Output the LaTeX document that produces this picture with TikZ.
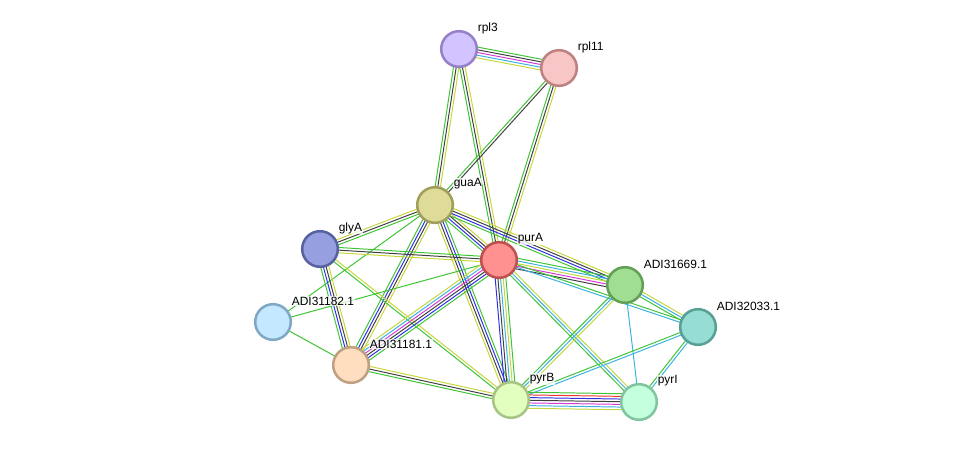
\documentclass[tikz,border=0pt]{standalone}
\usepackage{fontspec}
\setmainfont{Liberation Sans}
\usetikzlibrary{calc,backgrounds}

% evidence channel colours
\definecolor{chNbh}{RGB}{62,196,52}
\definecolor{chTxt}{RGB}{198,214,60}
\definecolor{chDb}{RGB}{58,178,222}
\definecolor{chExp}{RGB}{214,58,214}
\definecolor{chCoex}{RGB}{64,64,64}
\definecolor{chCooc}{RGB}{48,48,232}
\definecolor{chFus}{RGB}{236,52,52}

% protein fills and rims
\definecolor{rplThreeF}{RGB}{210,196,255}   \definecolor{rplThreeD}{RGB}{150,128,200}
\definecolor{rplElevenF}{RGB}{248,198,198}  \definecolor{rplElevenD}{RGB}{190,128,128}
\definecolor{guaF}{RGB}{222,220,152}        \definecolor{guaD}{RGB}{160,158,92}
\definecolor{glyF}{RGB}{150,160,224}        \definecolor{glyD}{RGB}{88,98,160}
\definecolor{purF}{RGB}{255,145,145}        \definecolor{purD}{RGB}{190,80,80}
\definecolor{aSixF}{RGB}{160,222,146}       \definecolor{aSixD}{RGB}{98,160,88}
\definecolor{aZeroF}{RGB}{150,222,212}      \definecolor{aZeroD}{RGB}{88,160,150}
\definecolor{aTwoF}{RGB}{196,232,255}       \definecolor{aTwoD}{RGB}{128,168,196}
\definecolor{aOneF}{RGB}{255,222,192}       \definecolor{aOneD}{RGB}{190,160,130}
\definecolor{pyrBF}{RGB}{226,255,192}       \definecolor{pyrBD}{RGB}{166,196,132}
\definecolor{pyrIF}{RGB}{196,255,222}       \definecolor{pyrID}{RGB}{128,196,160}

% one line per channel, side by side
\newcommand{\link}[4]{%
  \foreach \c [count=\i] in {#4} {
    \pgfmathsetmacro{\o}{(\i-(#3+1)/2)*1.9}
    \draw[edge, draw=\c] ($(#1.center)!\o pt!90:(#2.center)$) -- ($(#2.center)!\o pt!-90:(#1.center)$);
  }%
}

\tikzset{
  prot/.style 2 args={circle, minimum size=0.89cm, line width=1.8pt, fill=#1, draw=#2, inner sep=0pt},
  edge/.style={line width=0.7pt},
  lbl/.style={anchor=west, inner sep=0.4pt, fill=white, fill opacity=0.75, text opacity=1,
              font=\fontsize{8.5}{10}\selectfont}
}

\begin{document}
\begin{tikzpicture}[x=0.025cm, y=-0.025cm]
    \useasboundingbox (0,0) rectangle (975,448);

    \node (rpl3)   [prot={rplThreeF}{rplThreeD}] at (459, 49) {};
    \node (rpl11)  [prot={rplElevenF}{rplElevenD}] at (559, 68) {};
    \node (guaA)   [prot={guaF}{guaD}] at (435, 205) {};
    \node (glyA)   [prot={glyF}{glyD}] at (320, 249) {};
    \node (purA)   [prot={purF}{purD}] at (499, 260) {};
    \node (adi669) [prot={aSixF}{aSixD}] at (625, 285) {};
    \node (adi033) [prot={aZeroF}{aZeroD}] at (698, 327) {};
    \node (adi182) [prot={aTwoF}{aTwoD}] at (273, 322) {};
    \node (adi181) [prot={aOneF}{aOneD}] at (351, 365) {};
    \node (pyrB)   [prot={pyrBF}{pyrBD}] at (511, 400) {};
    \node (pyrI)   [prot={pyrIF}{pyrID}] at (639, 402) {};

    % names
    \node (rpl3-t)   [lbl] at ($(rpl3)+(18,-21)$) {rpl3};
    \node (rpl11-t)  [lbl] at ($(rpl11)+(18,-21)$) {rpl11};
    \node (guaA-t)   [lbl] at ($(guaA)+(18,-21)$) {guaA};
    \node (glyA-t)   [lbl] at ($(glyA)+(18,-21)$) {glyA};
    \node (purA-t)   [lbl] at ($(purA)+(18,-21)$) {purA};
    \node (adi669-t) [lbl] at ($(adi669)+(18,-21)$) {ADI31669.1};
    \node (adi033-t) [lbl] at ($(adi033)+(18,-21)$) {ADI32033.1};
    \node (adi182-t) [lbl] at ($(adi182)+(18,-21)$) {ADI31182.1};
    \node (adi181-t) [lbl] at ($(adi181)+(18,-21)$) {ADI31181.1};
    \node (pyrB-t)   [lbl] at ($(pyrB)+(18,-21)$) {pyrB};
    \node (pyrI-t)   [lbl] at ($(pyrI)+(18,-21)$) {pyrI};

    % edges go under the circles
    \begin{pgfonlayer}{background}
        \link{rpl3}{rpl11}{5}{chTxt,chDb,chExp,chCoex,chNbh}
        \link{rpl3}{guaA}{3}{chNbh,chCoex,chTxt}
        \link{rpl3}{purA}{3}{chNbh,chCoex,chTxt}
        \link{rpl11}{guaA}{2}{chNbh,chCoex}
        \link{rpl11}{purA}{3}{chNbh,chCoex,chTxt}

        \link{guaA}{glyA}{3}{chTxt,chCoex,chNbh}
        \link{guaA}{purA}{4}{chNbh,chCooc,chCoex,chTxt}
        \link{guaA}{adi669}{4}{chNbh,chCooc,chCoex,chTxt}
        \link{guaA}{adi181}{4}{chNbh,chCooc,chCoex,chTxt}
        \link{guaA}{pyrB}{4}{chTxt,chCoex,chCooc,chNbh}
        \link{guaA}{adi182}{1}{chNbh}

        \link{glyA}{purA}{3}{chTxt,chCoex,chNbh}
        \link{glyA}{adi181}{4}{chNbh,chCooc,chCoex,chTxt}
        \link{glyA}{pyrB}{2}{chNbh,chTxt}

        \link{adi182}{purA}{1}{chNbh}
        \link{adi182}{adi181}{1}{chNbh}

        \link{adi181}{purA}{6}{chNbh,chCooc,chCoex,chExp,chDb,chTxt}
        \link{adi181}{pyrB}{3}{chNbh,chCoex,chTxt}

        \link{purA}{pyrB}{5}{chCooc,chCoex,chDb,chTxt,chNbh}
        \link{purA}{adi669}{5}{chCoex,chExp,chTxt,chDb,chNbh}
        \link{purA}{adi033}{2}{chDb,chNbh}
        \link{purA}{pyrI}{3}{chNbh,chDb,chTxt}

        \link{adi669}{adi033}{3}{chNbh,chDb,chTxt}
        \link{adi669}{pyrB}{3}{chNbh,chDb,chTxt}
        \link{adi669}{pyrI}{1}{chDb}
        \link{adi033}{pyrB}{2}{chNbh,chDb}
        \link{adi033}{pyrI}{2}{chNbh,chDb}

        \link{pyrB}{pyrI}{7}{chTxt,chDb,chExp,chCoex,chCooc,chFus,chNbh}
    \end{pgfonlayer}

\end{tikzpicture}
\end{document}
